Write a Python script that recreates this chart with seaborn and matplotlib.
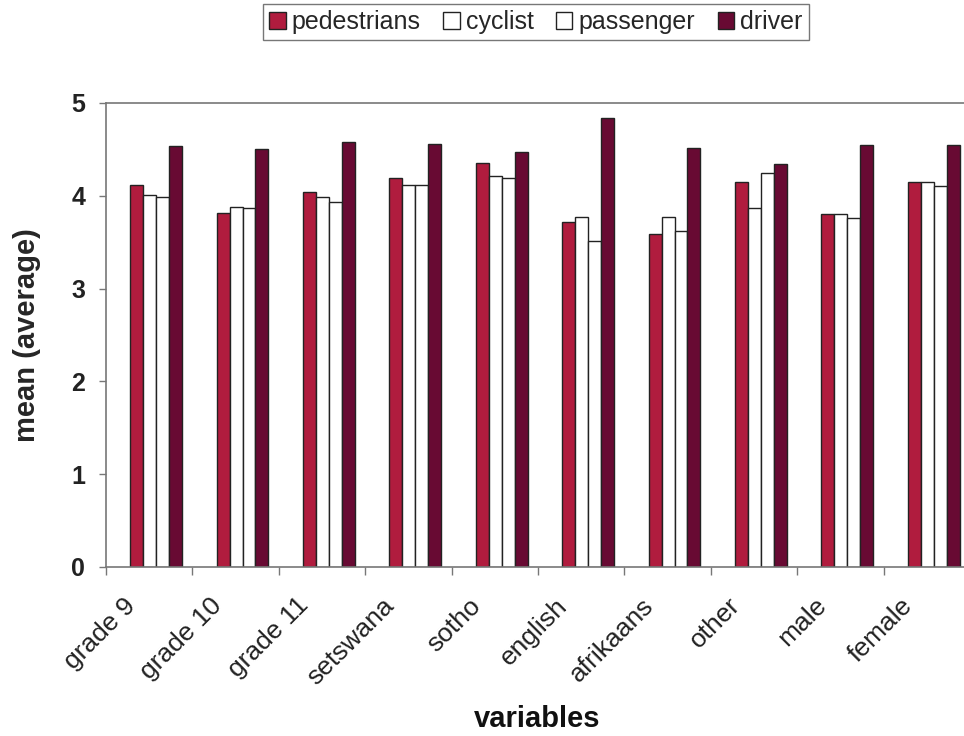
import matplotlib
matplotlib.use("Agg")
import matplotlib.pyplot as plt
import matplotlib.transforms as mtransforms
import seaborn as sns
import pandas as pd
from matplotlib.ticker import FixedLocator

categories = ["grade 9", "grade 10", "grade 11", "setswana", "sotho",
              "english", "afrikaans", "other", "male", "female"]
series = ["pedestrians", "cyclist", "passenger", "driver"]
pedestrians = [4.12, 3.81, 4.04, 4.19, 4.35, 3.72, 3.59, 4.15, 3.80, 4.15]
cyclist     = [4.01, 3.88, 3.99, 4.12, 4.21, 3.77, 3.77, 3.87, 3.80, 4.15]
passenger   = [3.99, 3.87, 3.93, 4.12, 4.19, 3.51, 3.62, 4.25, 3.76, 4.11]
driver      = [4.54, 4.50, 4.58, 4.56, 4.47, 4.84, 4.52, 4.34, 4.55, 4.55]
colors = ["#B01C3E", "#FFFFFF", "#FFFFFF", "#680A33"]

rows = []
for name, vals in zip(series, [pedestrians, cyclist, passenger, driver]):
    for c, v in zip(categories, vals):
        rows.append({"variables": c, "series": name, "mean": v})
df = pd.DataFrame(rows)

sns.set_style("white")
plt.rcParams["font.family"] = ["Liberation Sans", "DejaVu Sans"]

fig = plt.figure(figsize=(9.64, 7.36), dpi=100)
ax = fig.add_axes([106/964, (736-567)/736, (970-106)/964, (567-103)/736])

sns.barplot(data=df, x="variables", y="mean", hue="series", order=categories,
            hue_order=series, palette=colors, saturation=1, width=0.6,
            edgecolor="#222222", linewidth=1.0, ax=ax, legend=True)

ax.set_xlim(-0.58, 9.42)
ax.set_ylim(0, 5)
ax.set_yticks([0, 1, 2, 3, 4, 5])
ax.set_yticklabels(["0", "1", "2", "3", "4", "5"], fontsize=18, fontweight="bold", color="#222222")
ax.tick_params(axis="y", length=5, width=1, color="#777777", pad=10, left=True)

ax.set_xticks(range(len(categories)))
ax.set_xticklabels(categories, rotation=45, ha="right", rotation_mode="anchor",
                   fontsize=19, color="#222222")
ax.tick_params(axis="x", which="major", length=0, pad=19)
offset = mtransforms.ScaledTranslation(-33/100, 0, fig.dpi_scale_trans)
for lbl in ax.get_xticklabels():
    lbl.set_transform(lbl.get_transform() + offset)
ax.xaxis.set_minor_locator(FixedLocator([-0.58 + k for k in range(11)]))
ax.tick_params(axis="x", which="minor", length=6, width=1, color="#777777", bottom=True)

for s in ["left", "bottom", "top"]:
    ax.spines[s].set_visible(True)
    ax.spines[s].set_color("#777777")
    ax.spines[s].set_linewidth(1.2)
ax.spines["right"].set_visible(False)

ax.set_xlabel("")
fig.text(537/964, 9/736, "variables", fontsize=21, fontweight="bold",
         ha="center", va="baseline", color="#111111")
ax.set_ylabel("mean (average)", fontsize=21, fontweight="bold", labelpad=22)

leg = ax.get_legend()
handles = leg.legend_handles
leg.remove()
fig.legend(handles, series, loc="center", bbox_to_anchor=(536/964, 1 - 22/736),
           ncol=4, fontsize=18, frameon=True, fancybox=False, edgecolor="#555555",
           handlelength=0.65, handleheight=0.65, handletextpad=0.25, columnspacing=0.9,
           borderpad=0.25, borderaxespad=0)

fig.savefig("out.png", dpi=100)
